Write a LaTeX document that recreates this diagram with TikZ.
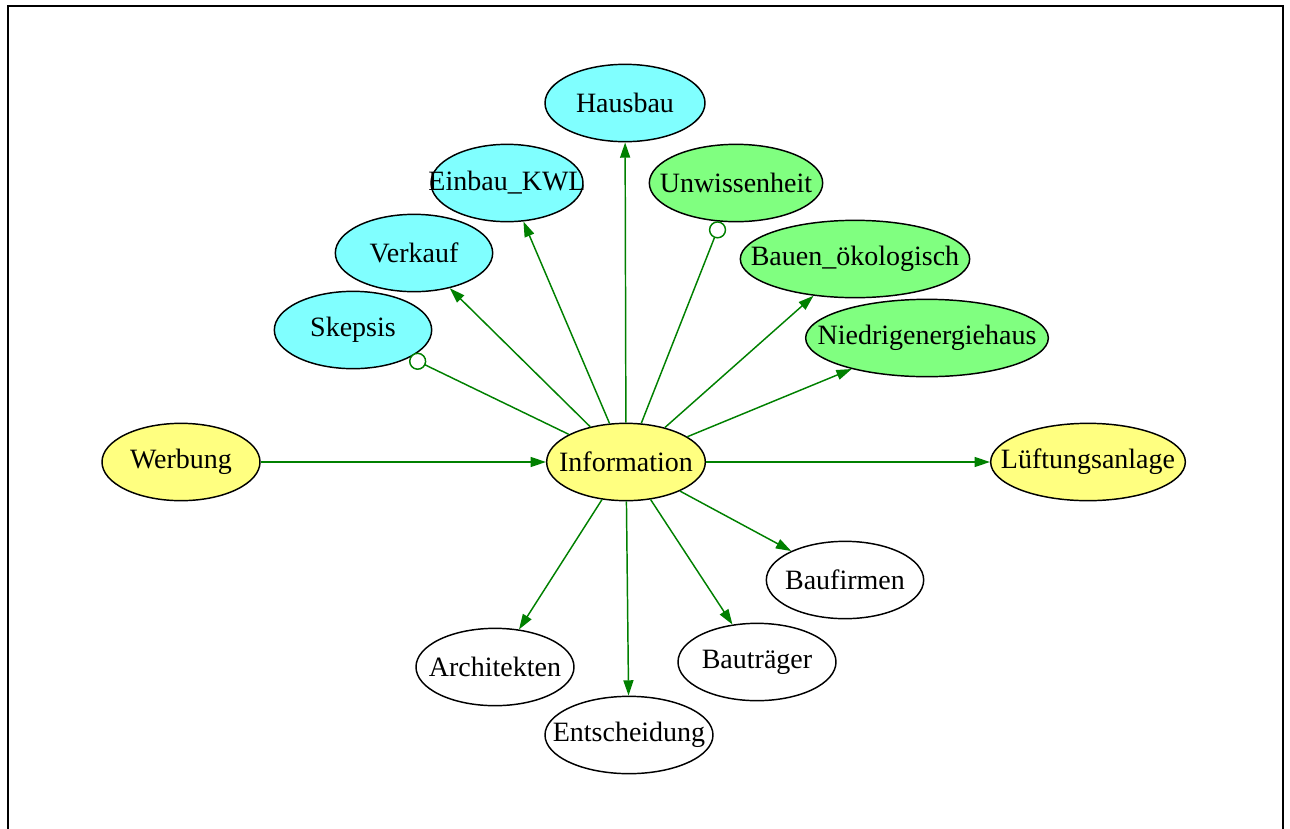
\documentclass[tikz,border=0pt]{standalone}
\usepackage{fontspec}
\setmainfont{Liberation Serif}
\usepackage{xcolor}
\usepackage{tikz}
\usetikzlibrary{shapes.geometric,arrows.meta}
\definecolor{gvcyan}{RGB}{128,255,255}
\definecolor{gvgreen}{RGB}{128,255,128}
\definecolor{gvyellow}{RGB}{255,255,128}
\definecolor{gvedge}{RGB}{0,128,0}
\newcommand{\gvtext}[1]{\makebox[0pt]{#1}}

\begin{document}
\begin{tikzpicture}[
    x=0.75pt, y=-0.75pt,
    ell/.style={draw, ellipse, line width=1.1pt, inner sep=0pt,
                minimum height=58pt, font=\fontsize{21}{24}\selectfont},
    arr/.style={-{Triangle[length=11.5pt,width=7.5pt]}, draw=gvedge, line width=1.1pt},
    odt/.style={-{Circle[open,length=13pt,fill=white]}, draw=gvedge, line width=1.1pt}
]
    \useasboundingbox (0,0) rectangle (1290,829);

    % Frame
    \draw[line width=1.5pt] (8,829) -- (8,6) -- (1283,6) -- (1283,829);

    % Centre
    \node[ell, fill=gvyellow, minimum width=119pt] (info) at (626,462) {\gvtext{Information}};
    \node[ell, fill=gvyellow, minimum width=118.5pt] (werbung) at (181,462) {\gvtext{Werbung}};
    \node[ell, fill=gvyellow, minimum width=146pt] (lueftung) at (1088,462) {\gvtext{Lüftungsanlage}};

    % Upper left (cyan)
    \node[ell, fill=gvcyan, minimum width=120pt] (hausbau) at (625,103) {\gvtext{Hausbau}};
    \node[ell, fill=gvcyan, minimum width=114pt] (einbau) at (507,183) {\gvtext{Einbau\_KWL}};
    \node[ell, fill=gvcyan, minimum width=118pt] (verkauf) at (414,253) {\gvtext{Verkauf}};
    \node[ell, fill=gvcyan, minimum width=118pt] (skepsis) at (353,330) {\gvtext{Skepsis}};

    % Upper right (green)
    \node[ell, fill=gvgreen, minimum width=130pt] (unwissen) at (736,183) {\gvtext{Unwissenheit}};
    \node[ell, fill=gvgreen, minimum width=172pt] (bauen) at (855,259) {\gvtext{Bauen\_ökologisch}};
    \node[ell, fill=gvgreen, minimum width=182pt] (niedrig) at (927,338) {\gvtext{Niedrigenergiehaus}};

    % Lower (white)
    \node[ell, fill=white, minimum width=118pt] (baufirmen) at (845,580) {\gvtext{Baufirmen}};
    \node[ell, fill=white, minimum width=118.5pt] (bautraeger) at (757,662) {\gvtext{Bauträger}};
    \node[ell, fill=white, minimum width=118.5pt] (architekten) at (495,667) {\gvtext{Architekten}};
    \node[ell, fill=white, minimum width=126pt] (entscheidung) at (629,735) {\gvtext{Entscheidung}};

    % Arrows
    \draw[arr] (werbung) -- (info);
    \draw[arr] (info) -- (lueftung);
    \draw[arr] (info) -- (hausbau);
    \draw[arr] (info) -- (einbau);
    \draw[arr] (info) -- (verkauf);
    \draw[odt] (info) -- (skepsis);
    \draw[odt] (info) -- (unwissen);
    \draw[arr] (info) -- (bauen);
    \draw[arr] (info) -- (niedrig);
    \draw[arr] (info) -- (baufirmen);
    \draw[arr] (info) -- (bautraeger);
    \draw[arr] (info) -- (architekten);
    \draw[arr] (info) -- (entscheidung);
\end{tikzpicture}
\end{document}
